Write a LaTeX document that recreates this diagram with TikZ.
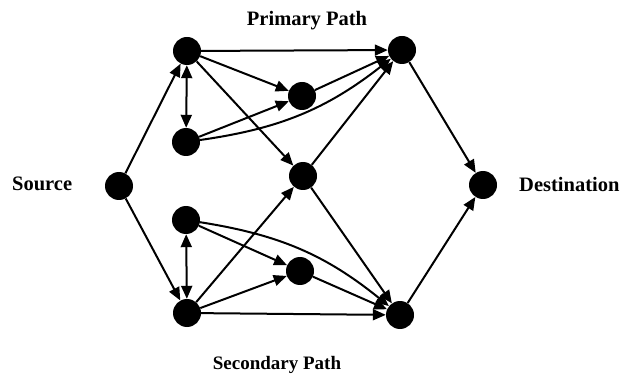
\documentclass[tikz,border=0pt]{standalone}
\usepackage{fontspec}
\setmainfont{Liberation Serif}
\usepackage{tikz}
\usetikzlibrary{arrows.meta, positioning}

\begin{document}
\begin{tikzpicture}[
  x=1pt, y=-1pt,
  >={Triangle[length=13pt, width=11pt]},
  dotnode/.style={
    circle, fill=black, draw=none,
    minimum size=28pt, inner sep=0pt
  },
  pathlabel/.style={
    font=\fontsize{20.5}{24}\selectfont\bfseries, inner sep=0pt
  },
  linkedge/.style={draw, ->, line width=2pt, black},
  dualedge/.style={draw, <->, line width=2pt, black},
]
\useasboundingbox (0,0) rectangle (624,374);

% ============================================================
% NODES
% ============================================================
\node[dotnode] (src) at (119,186) {};
\node[dotnode] (dst) at (483,185) {};

% primary side
\node[dotnode] (p1) at (187,51) {};
\node[dotnode] (p2) at (186,142) {};
\node[dotnode] (p3) at (302,96) {};
\node[dotnode] (p4) at (402,50) {};

\node[dotnode] (mid) at (303,176) {};

% secondary side
\node[dotnode] (s1) at (186,220) {};
\node[dotnode] (s2) at (187,313) {};
\node[dotnode] (s3) at (300,271) {};
\node[dotnode] (s4) at (400,315) {};

% ============================================================
% LABELS
% ============================================================
\node[pathlabel, anchor=base] (primlab) at (307,26) {Primary Path};
\node[pathlabel, anchor=base, font=\fontsize{19}{22}\selectfont\bfseries]
  (seclab) at (277,369) {Secondary Path};
\node[pathlabel, anchor=base west] (srclab) at (12,191) {Source};
\node[pathlabel, anchor=base west] (dstlab) at (519,192) {Destination};

% ============================================================
% EDGES
% ============================================================
\draw[linkedge] (src) -- (p1);
\draw[linkedge] (src) -- (s2);

% --- primary path ---
\draw[dualedge] (p1) -- (p2);
\draw[linkedge] (p1) -- (p4);
\draw[linkedge] (p1) -- (p3);
\draw[linkedge] (p1) -- (mid);
\draw[linkedge] (p2) -- (p3);
\draw[linkedge] (p2) to[bend right=15] (p4);
\draw[linkedge] (p3) -- (p4);
\draw[linkedge] (mid) -- (p4);
\draw[linkedge] (p4) -- (dst);

% --- secondary path ---
\draw[dualedge] (s1) -- (s2);
\draw[linkedge] (s1) -- (s3);
\draw[linkedge] (s1) to[bend left=15] (s4);
\draw[linkedge] (s2) -- (s3);
\draw[linkedge] (s2) -- (mid);
\draw[linkedge] (s2) -- (s4);
\draw[linkedge] (s3) -- (s4);
\draw[linkedge] (mid) -- (s4);
\draw[linkedge] (s4) -- (dst);

\end{tikzpicture}
\end{document}
